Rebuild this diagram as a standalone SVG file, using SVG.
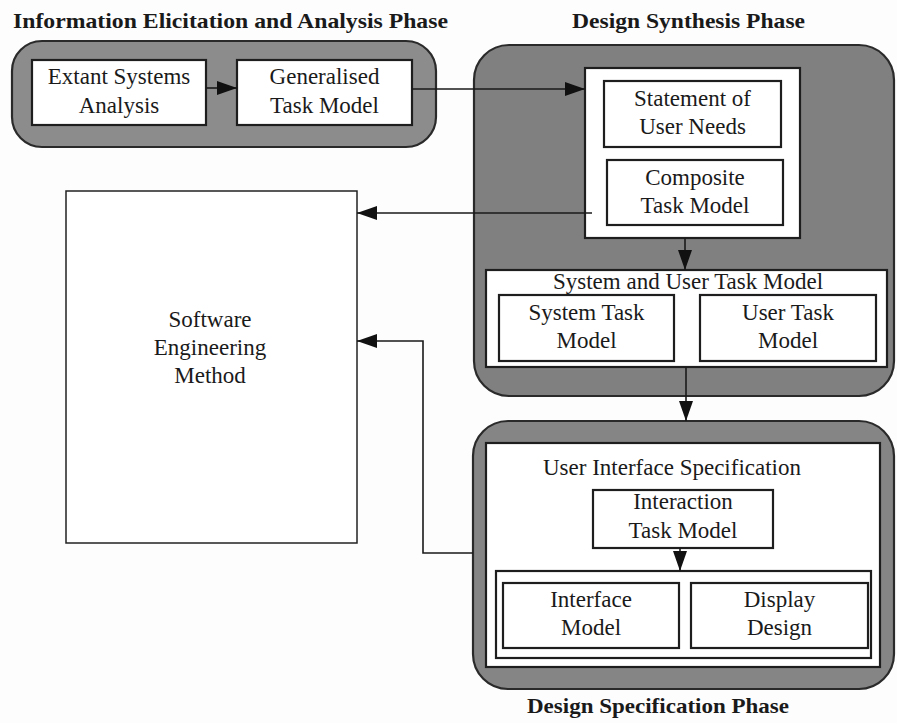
<svg xmlns="http://www.w3.org/2000/svg" width="897" height="723" viewBox="0 0 897 723">
  <defs>
    <marker id="arrow" markerUnits="userSpaceOnUse" markerWidth="20" markerHeight="14" refX="20" refY="7" orient="auto">
      <path d="M0,0 L20,7 L0,14 z" fill="#111"/>
    </marker>
    <style>
      .bg { fill: #fdfdfd; }
      .phase { stroke: #2a2a2a; stroke-width: 2.2; }
      .p1 { fill: #8c8c8c; }
      .p2 { fill: #808080; }
      .p3 { fill: #858585; }
      .box { fill: #ffffff; stroke: #1e1e1e; stroke-width: 2.2; }
      .thin { fill: #ffffff; stroke: #222; stroke-width: 1.5; }
      .label { font-size: 23px; fill: #1a1a1a; text-anchor: middle; }
      .title { font-size: 21px; font-weight: bold; fill: #1a1a1a; }
      .link { fill: none; stroke: #1a1a1a; stroke-width: 1.6; }
    </style>
  </defs>

  <rect class="bg" x="0" y="0" width="897" height="723"/>

  <!-- phase headings -->
  <g font-family="Liberation Serif, Times New Roman, serif">
    <text class="title" x="13" y="28" textLength="435" lengthAdjust="spacingAndGlyphs">Information Elicitation and Analysis Phase</text>
    <text class="title" x="572" y="28" textLength="233" lengthAdjust="spacingAndGlyphs">Design Synthesis Phase</text>
    <text class="title" x="527" y="713" textLength="262" lengthAdjust="spacingAndGlyphs">Design Specification Phase</text>
  </g>

  <g font-family="Liberation Serif, Times New Roman, serif">
    <!-- Information elicitation and analysis phase -->
    <g id="phase-elicitation">
      <rect class="phase p1" x="12" y="41" width="424" height="106" rx="30"/>
      <g id="extant-systems">
        <rect class="box" x="32" y="60" width="174" height="65"/>
        <text class="label" x="119" y="84">Extant Systems</text>
        <text class="label" x="119" y="113">Analysis</text>
      </g>
      <g id="generalised-task-model">
        <rect class="box" x="237" y="60" width="175" height="65"/>
        <text class="label" x="324.5" y="84">Generalised</text>
        <text class="label" x="324.5" y="113">Task Model</text>
      </g>
    </g>

    <!-- Design synthesis phase -->
    <g id="phase-synthesis">
      <rect class="phase p2" x="474" y="45" width="420" height="351" rx="35"/>
      <g id="needs-and-composite">
        <rect class="box" x="585" y="68" width="215" height="170"/>
        <g id="statement-of-user-needs">
          <rect class="box" x="604" y="81" width="177" height="66"/>
          <text class="label" x="692.5" y="106">Statement of</text>
          <text class="label" x="692.5" y="134">User Needs</text>
        </g>
        <g id="composite-task-model">
          <rect class="box" x="607" y="160" width="176" height="65"/>
          <text class="label" x="695" y="185">Composite</text>
          <text class="label" x="695" y="213">Task Model</text>
        </g>
      </g>
      <g id="system-and-user-task-model">
        <rect class="box" x="486" y="270" width="401" height="97"/>
        <text class="label" x="688" y="289">System and User Task Model</text>
        <g id="system-task-model">
          <rect class="box" x="499" y="295" width="175" height="66"/>
          <text class="label" x="586.5" y="320">System Task</text>
          <text class="label" x="586.5" y="348">Model</text>
        </g>
        <g id="user-task-model">
          <rect class="box" x="700" y="295" width="176" height="66"/>
          <text class="label" x="788" y="320">User Task</text>
          <text class="label" x="788" y="348">Model</text>
        </g>
      </g>
    </g>

    <!-- Design specification phase -->
    <g id="phase-specification">
      <rect class="phase p3" x="473" y="421" width="421" height="268" rx="35"/>
      <g id="user-interface-specification">
        <rect class="box" x="486" y="443" width="394" height="224"/>
        <text class="label" x="672" y="475">User Interface Specification</text>
        <g id="interaction-task-model">
          <rect class="box" x="593" y="490" width="180" height="58"/>
          <text class="label" x="683" y="509">Interaction</text>
          <text class="label" x="683" y="538">Task Model</text>
        </g>
        <g id="interface-and-display">
          <rect class="box" x="496" y="571" width="375" height="87"/>
          <g id="interface-model">
            <rect class="box" x="503" y="583" width="176" height="65"/>
            <text class="label" x="591" y="607">Interface</text>
            <text class="label" x="591" y="635">Model</text>
          </g>
          <g id="display-design">
            <rect class="box" x="691" y="583" width="177" height="65"/>
            <text class="label" x="779.5" y="607">Display</text>
            <text class="label" x="779.5" y="635">Design</text>
          </g>
        </g>
      </g>
    </g>

    <!-- Software engineering method -->
    <g id="software-engineering-method">
      <rect class="thin" x="66" y="191" width="291" height="352"/>
      <text class="label" x="210" y="327">Software</text>
      <text class="label" x="210" y="355">Engineering</text>
      <text class="label" x="210" y="383">Method</text>
    </g>
  </g>

  <!-- connectors -->
  <g id="connectors">
    <line class="link" x1="206" y1="88" x2="237" y2="88" marker-end="url(#arrow)"/>
    <line class="link" x1="412" y1="89" x2="585" y2="89" marker-end="url(#arrow)"/>
    <line class="link" x1="592" y1="213" x2="357" y2="213" marker-end="url(#arrow)"/>
    <line class="link" x1="685" y1="238" x2="685" y2="270" marker-end="url(#arrow)"/>
    <line class="link" x1="686" y1="367" x2="686" y2="421" marker-end="url(#arrow)"/>
    <line class="link" x1="680" y1="548" x2="680" y2="571" marker-end="url(#arrow)"/>
    <polyline class="link" points="473,553 423,553 423,341 357,341" marker-end="url(#arrow)"/>
  </g>
</svg>
